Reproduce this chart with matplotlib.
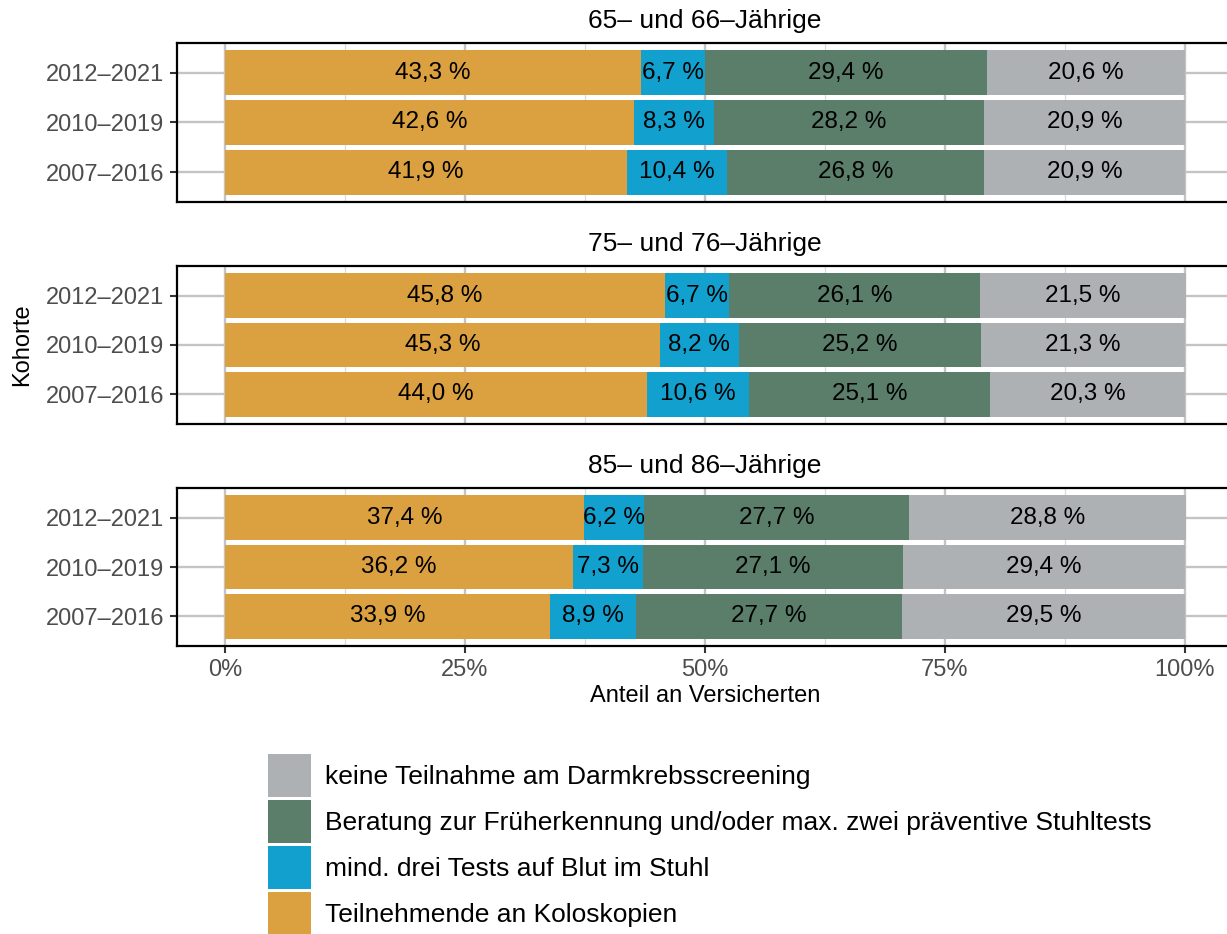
import matplotlib
matplotlib.use("Agg")
import matplotlib.pyplot as plt
from matplotlib.patches import Patch
import numpy as np

plt.rcParams['font.family'] = ['Liberation Sans', 'DejaVu Sans']

panels = ["65\u2013 und 66\u2013Jährige", "75\u2013 und 76\u2013Jährige", "85\u2013 und 86\u2013Jährige"]
cohorts = ["2007\u20132016", "2010\u20132019", "2012\u20132021"]  # bottom to top
categories = ["Teilnehmende an Koloskopien",
              "mind. drei Tests auf Blut im Stuhl",
              "Beratung zur Früherkennung und/oder max. zwei präventive Stuhltests",
              "keine Teilnahme am Darmkrebsscreening"]
colors = ["#DBA040", "#12A1CF", "#5B7E6B", "#AEB1B4"]

# values per panel, rows = cohorts (bottom to top)
koloskopie = [[41.9, 42.6, 43.3], [44.0, 45.3, 45.8], [33.9, 36.2, 37.4]]
blut = [[10.4, 8.3, 6.7], [10.6, 8.2, 6.7], [8.9, 7.3, 6.2]]
beratung = [[26.8, 28.2, 29.4], [25.1, 25.2, 26.1], [27.7, 27.1, 27.7]]
keine = [[20.9, 20.9, 20.6], [20.3, 21.3, 21.5], [29.5, 29.4, 28.8]]

W, H = 1227, 934
fig = plt.figure(figsize=(W / 100, H / 100), dpi=100)

panel_px = [(43, 202), (266, 424), (488, 646)]
left_px, right_px = 177, 1233

def fx(px):
    return px / W

def fy(px):
    return 1 - px / H

tick_col = "#4D4D4D"
for p, (top, bot) in enumerate(panel_px):
    ax = fig.add_axes([fx(left_px), fy(bot), fx(right_px - left_px), (bot - top) / H])
    series = [koloskopie[p], blut[p], beratung[p], keine[p]]
    ypos = np.arange(1, len(cohorts) + 1)
    left = np.zeros(len(cohorts))
    for vals, col in zip(series, colors):
        vals = np.array(vals)
        ax.barh(ypos, vals, left=left, height=0.9, color=col, zorder=3)
        for y, l, v in zip(ypos, left, vals):
            ax.text(l + v / 2, y, f"{v:.1f} %".replace(".", ","), ha="center", va="center",
                    fontsize=17.5, color="black", zorder=4)
        left = left + vals
    ax.set_xlim(-5, 105)
    ax.set_ylim(0.4, 3.6)
    ax.set_yticks(ypos)
    ax.set_yticklabels(cohorts, fontsize=17, color=tick_col)
    ax.set_xticks([0, 25, 50, 75, 100])
    ax.set_xticks([12.5, 37.5, 62.5, 87.5], minor=True)
    ax.grid(axis="x", which="major", color="#C4C4C4", linewidth=1.7, zorder=0)
    ax.grid(axis="x", which="minor", color="#DCDCDC", linewidth=0.9, zorder=0)
    ax.grid(axis="y", which="major", color="#C4C4C4", linewidth=1.7, zorder=0)
    ax.tick_params(axis="y", length=5, width=1.5, color="#333333", pad=4)
    ax.tick_params(axis="x", which="minor", length=0)
    for s in ax.spines.values():
        s.set_color("black")
        s.set_linewidth(1.6)
    if p < 2:
        ax.tick_params(axis="x", which="major", length=0, labelbottom=False)
    else:
        ax.set_xticklabels(["0%", "25%", "50%", "75%", "100%"], fontsize=17, color=tick_col)
        ax.tick_params(axis="x", which="major", length=5, width=1.5, color="#333333", pad=4)
        ax.set_xlabel("Anteil an Versicherten", fontsize=17, labelpad=3)
    ax.text(fx((left_px + right_px) / 2), fy(top - 22), panels[p], transform=fig.transFigure,
            ha="center", va="center", fontsize=19)

fig.text(fx(22), fy(345), "Kohorte", rotation=90, ha="center", va="center", fontsize=17)

handles = [Patch(facecolor=c, edgecolor="none") for c in colors[::-1]]
fig.legend(handles, categories[::-1], loc="upper left", bbox_to_anchor=(fx(268), fy(754)),
           frameon=False, fontsize=19, handlelength=1.63, handleheight=2.13,
           labelspacing=0.11, handletextpad=0.53, borderpad=0, borderaxespad=0)

fig.savefig("out.png", dpi=100)
